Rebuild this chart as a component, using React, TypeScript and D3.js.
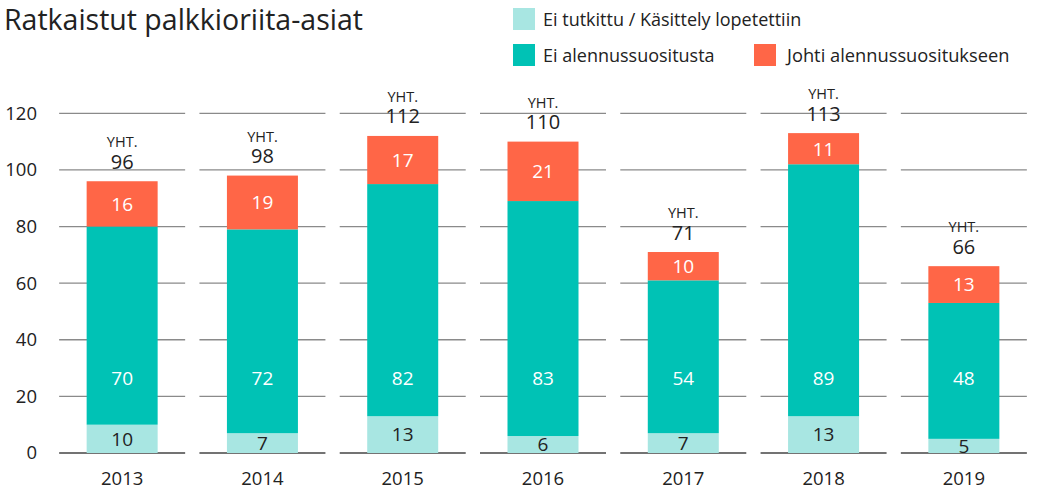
import React from "react";
import * as d3 from "d3";

const years = ["2013", "2014", "2015", "2016", "2017", "2018", "2019"];
const notInvestigated = [10, 7, 13, 6, 7, 13, 5];
const noDiscount = [70, 72, 82, 83, 54, 89, 48];
const discount = [16, 19, 17, 21, 10, 11, 13];
const totals = [96, 98, 112, 110, 71, 113, 66];
const yTicks = [0, 20, 40, 60, 80, 100, 120];
const seriesNames = ["Ei tutkittu / Käsittely lopetettiin", "Ei alennussuositusta", "Johti alennussuositukseen"];
const seriesColors = ["#a8e6e2", "#00c2b5", "#ff6647"];
const labelColors = ["#222222", "#ffffff", "#ffffff"];
// middle series labels sit at a common level in the reference
const middleLabelLevel = 26.5;

const W = 1038;
const H = 490;
const FONT = "'Open Sans', sans-serif";

export default function App() {
  const x = d3.scaleBand<string>().domain(years).range([52, 1034]).paddingInner(0).paddingOuter(0);
  const y = d3.scaleLinear().domain([0, 120]).range([453, 113.3]);
  const barW = 71;
  const segW = 126;

  const rows = years.map((yr, i) => ({
    year: yr,
    s0: notInvestigated[i],
    s1: noDiscount[i],
    s2: discount[i],
  }));
  const stack = d3.stack<any>().keys(["s0", "s1", "s2"]);
  const series = stack(rows);

  return (
    <svg width={W} height={H} style={{ display: "block", position: "absolute", left: 0, top: 0 }} fontFamily={FONT}>
      <rect x={0} y={0} width={W} height={H} fill="#ffffff" />
      <text x={4} y={30} fontSize={28.5} fill="#222">Ratkaistut palkkioriita-asiat</text>

      {/* legend */}
      <g>
        <rect x={513} y={8} width={22} height={22} fill={seriesColors[0]} />
        <text x={543} y={26} fontSize={18} fill="#222">{seriesNames[0]}</text>
        <rect x={513} y={44} width={22} height={22} fill={seriesColors[1]} />
        <text x={543} y={62} fontSize={18} fill="#222">{seriesNames[1]}</text>
        <rect x={754} y={44} width={22} height={22} fill={seriesColors[2]} />
        <text x={787} y={62} fontSize={18.3} fill="#222">{seriesNames[2]}</text>
      </g>

      {/* y axis labels */}
      {yTicks.map((t) => (
        <text key={t} x={37} y={y(t)} dy="0.35em" textAnchor="end" fontSize={18.5} fill="#222">
          {t}
        </text>
      ))}

      {/* gridline segments */}
      {years.map((yr) => {
        const c = (x(yr) as number) + x.bandwidth() / 2;
        return yTicks.map((t) => (
          <line
            key={yr + t}
            x1={c - segW / 2}
            x2={c + segW / 2}
            y1={y(t)}
            y2={y(t)}
            stroke={t === 0 ? "#444" : "#8a8a8a"}
            strokeWidth={1.3}
          />
        ));
      })}

      {/* bars */}
      {series.map((s, si) =>
        s.map((d, i) => {
          const c = (x(years[i]) as number) + x.bandwidth() / 2;
          const y0 = y(d[0]);
          const y1 = y(d[1]);
          const v = d[1] - d[0];
          const ly = si === 1 ? y(middleLabelLevel) : (y0 + y1) / 2;
          return (
            <g key={si + "-" + i}>
              <rect x={c - barW / 2} y={y1} width={barW} height={y0 - y1} fill={seriesColors[si]} />
              <text x={c} y={ly} dy="0.36em" textAnchor="middle" fontSize={19} fill={labelColors[si]}>
                {v}
              </text>
            </g>
          );
        })
      )}

      {/* totals */}
      {years.map((yr, i) => {
        const c = (x(yr) as number) + x.bandwidth() / 2;
        const top = y(totals[i]);
        return (
          <g key={"t" + yr}>
            <text x={c} y={top - 34} textAnchor="middle" fontSize={14.5} fill="#222">YHT.</text>
            <text x={c} y={top - 12.5} textAnchor="middle" fontSize={20} fill="#222">{totals[i]}</text>
          </g>
        );
      })}

      {/* x labels */}
      {years.map((yr) => (
        <text
          key={"x" + yr}
          x={(x(yr) as number) + x.bandwidth() / 2}
          y={485}
          textAnchor="middle"
          fontSize={18.5}
          fill="#222"
        >
          {yr}
        </text>
      ))}
    </svg>
  );
}
